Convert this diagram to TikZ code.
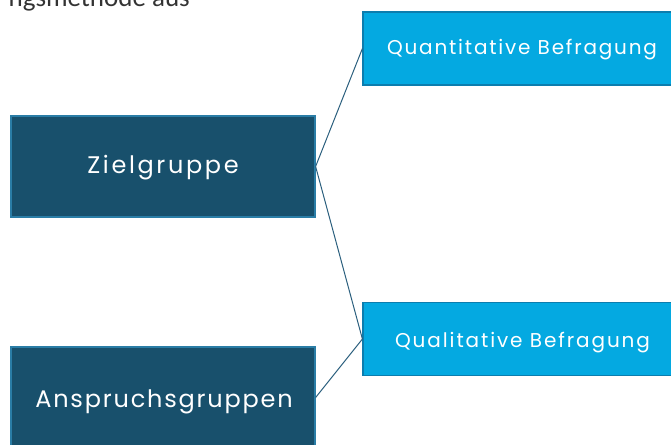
\documentclass[tikz,border=0pt]{standalone}
\usepackage{fontspec}
\setmainfont{Poppins}
\newfontfamily\calfont{Carlito}
\newfontfamily\zielfont[LetterSpace=11]{Poppins}
\newfontfamily\anspfont[LetterSpace=7.5]{Poppins}
\newfontfamily\quantfont[LetterSpace=9]{Poppins}
\newfontfamily\qualfont[LetterSpace=9.5]{Poppins}
\definecolor{darkbox}{HTML}{18506C}
\definecolor{darkedge}{HTML}{2A7DA6}
\definecolor{lightbox}{HTML}{04A9E1}
\definecolor{lightedge}{HTML}{0C7DAE}
\definecolor{linkcol}{HTML}{2B5F7E}
\begin{document}
\begin{tikzpicture}[x=1pt,y=-1pt,
  darkstyle/.style={draw=darkedge, line width=1.2pt, fill=darkbox,
    minimum width=304pt, minimum height=101pt, inner sep=0pt},
  lightstyle/.style={draw=lightedge, line width=1.2pt, fill=lightbox,
    minimum width=318pt, minimum height=73pt, inner sep=0pt},
  boxtext/.style={text=white, anchor=base, inner sep=0pt},
  link/.style={draw=linkcol, line width=1pt}]
\useasboundingbox (0,0) rectangle (671,444);
\begin{scope}
\clip (0,0) rectangle (671,444);
\node[anchor=base east, text=black!80, font=\calfont\fontsize{27}{30}\selectfont, inner sep=0pt] (top) at (190,6.5) {ngsmethode aus};
\node[darkstyle] (ziel) at (163,166.5) {};
\node[boxtext, font=\zielfont\fontsize{24}{27}\selectfont] (zieltxt) at (163,173.5) {Zielgruppe};
\node[darkstyle] (anspruch) at (163,397.5) {};
\node[boxtext, font=\anspfont\fontsize{24}{27}\selectfont] (anspruchtxt) at (164,407) {Anspruchsgruppen};
\node[lightstyle] (quant) at (522,48.5) {};
\node[boxtext, font=\quantfont\fontsize{20}{24}\selectfont] (quanttxt) at (522,54.5) {Quantitative Befragung};
\node[lightstyle] (qual) at (522,339) {};
\node[boxtext, font=\qualfont\fontsize{20}{24}\selectfont] (qualtxt) at (522.5,347) {Qualitative Befragung};
\draw[link] (ziel.east) -- (quant.west);
\draw[link] (ziel.east) -- (qual.west);
\draw[link] (anspruch.east) -- (qual.west);
\end{scope}
\end{tikzpicture}
\end{document}
